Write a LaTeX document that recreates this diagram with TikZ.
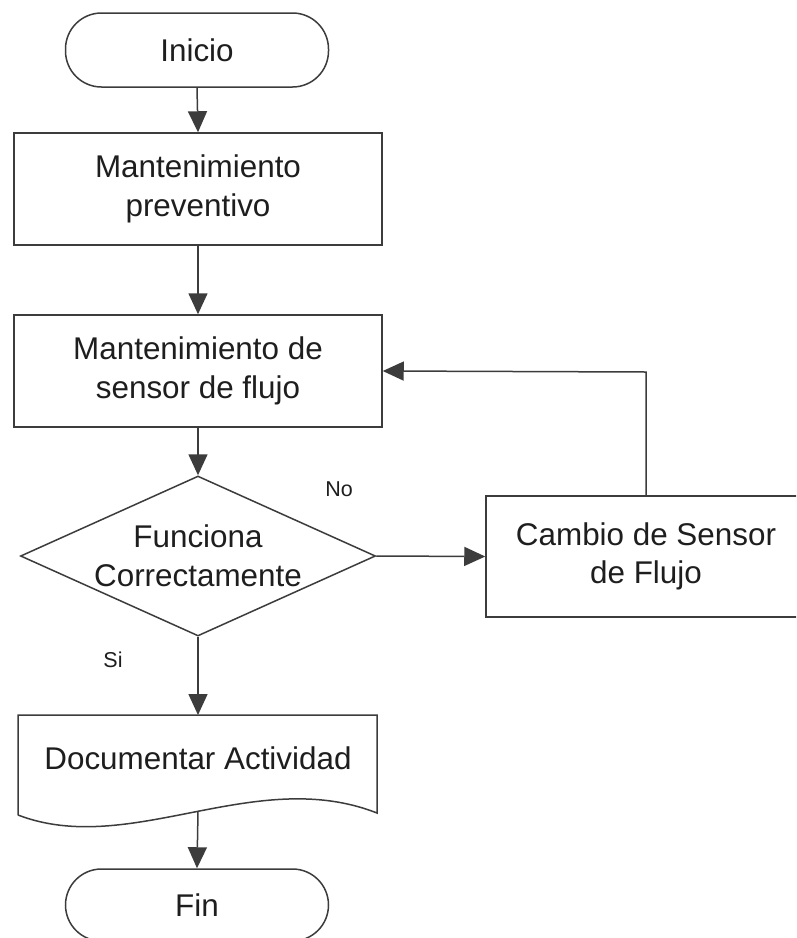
\documentclass[tikz,border=0pt]{standalone}
\usepackage{fontspec}
\setmainfont{Liberation Sans}
\usetikzlibrary{shapes.geometric,arrows.meta}
\definecolor{ln}{HTML}{3C3C3C}
\definecolor{tx}{HTML}{1E1E1E}
\tikzset{
  base/.style={draw=ln, line width=1.5pt, text=tx, align=center, inner sep=0pt,
    font=\fontsize{31.4}{38.5}\selectfont},
  term/.style={base, rounded corners=36pt, minimum width=263pt, minimum height=74pt},
  proc/.style={base, minimum width=368pt, minimum height=112pt},
  decis/.style={base, diamond, aspect=2.22, minimum width=355pt, minimum height=160pt},
  lbl/.style={text=tx, inner sep=0pt, font=\fontsize{21.5}{25}\selectfont},
  conn/.style={draw=ln, line width=1.5pt, -{Triangle[length=21pt,width=19pt]}},
}
\begin{document}
\begin{tikzpicture}[x=1pt,y=-1pt]
\useasboundingbox (0,0) rectangle (796,938);
\clip (0,0) rectangle (796,938);
\fill[white] (0,0) rectangle (796,938);
\node[term] (ini) at (197,50) {Inicio};
\node[proc] (mp) at (198,189) {Mantenimiento\\preventivo};
\node[proc] (ms) at (198,371) {Mantenimiento de\\sensor de flujo};
\node[decis] (fc) at (198,556) {Funciona\\Correctamente};
\node[proc, minimum width=320pt, minimum height=121pt] (cs) at (646,556.5) {Cambio de Sensor\\de Flujo};
% document shape
\draw[ln, line width=1.5pt] (18,815) -- (18,715) -- (377,715) -- (377,813)
  .. controls (255,765) and (130,858) .. (18,815);
\node[base, draw=none, minimum width=359pt, minimum height=40pt] (doc) at (198,758) {Documentar Actividad};
\coordinate (doctop) at (198,715);
\coordinate (docbot) at (198,811.5);
\node[term, minimum height=72pt] (fin) at (197,905) {Fin};
\coordinate (turn) at (646,372);
% connectors
\draw[conn] (ini.south) -- (mp.north);
\draw[conn] (mp.south) -- (ms.north);
\draw[conn] (ms.south) -- (fc.north);
\draw[conn] (fc.east) -- (cs.west);
\draw[conn] (cs.north) -- (turn) -- (ms.east);
\draw[conn] (fc.south) -- (doctop);
\draw[conn] (docbot) -- (fin.north);
\node[lbl] (no) at (339,489) {No};
\node[lbl] (si) at (113,660) {Si};
\end{tikzpicture}
\end{document}
